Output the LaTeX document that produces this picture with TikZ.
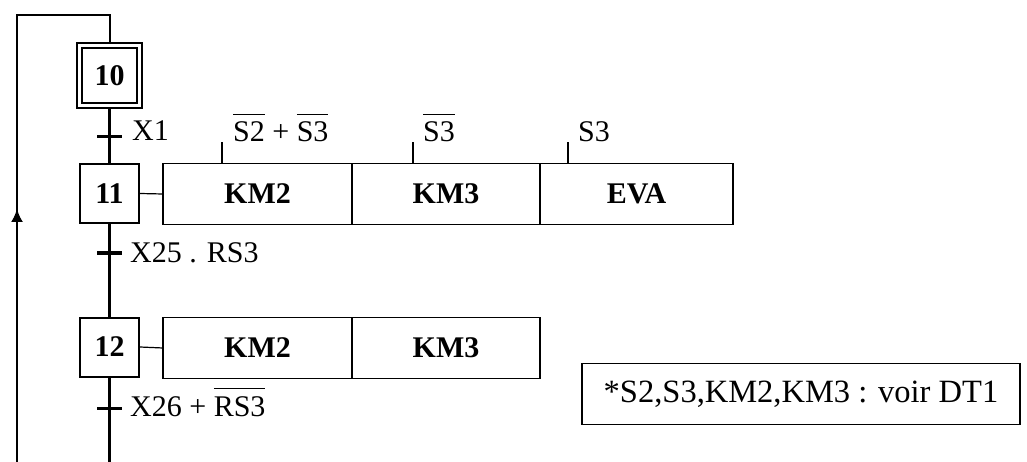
\documentclass[tikz,border=0pt]{standalone}
\usepackage{fontspec}
\setmainfont{Liberation Serif}
\usetikzlibrary{arrows.meta,backgrounds,decorations.markings}
\newcommand\ovl[1]{\leavevmode\vbox{\hrule height 1.3pt\vskip 7pt\hbox{#1}}}
\begin{document}
\begin{tikzpicture}[x=1pt,y=-1pt,
  every node/.style={font=\fontsize{30}{36}\selectfont},
  stepbox/.style={draw,fill=white,line width=2pt,minimum width=59pt,minimum height=59pt,inner sep=0pt,font=\fontsize{30}{36}\selectfont\bfseries},
  initstep/.style={stepbox,double,double distance=3pt,minimum width=60pt,minimum height=60pt},
  actbox/.style={draw,fill=white,line width=1.4pt,minimum height=61pt,inner sep=0pt,outer sep=0pt,anchor=west,font=\fontsize{30}{36}\selectfont\bfseries},
  flow/.style={line width=2.4pt},
  back/.style={line width=2pt},
  link/.style={line width=1.2pt},
  trans/.style={line width=3pt},
  cond/.style={line width=1.6pt},
  lbl/.style={anchor=base west,inner sep=0pt},
  notebox/.style={draw,line width=1.3pt,minimum width=438pt,minimum height=61pt,inner sep=0pt,font=\fontsize{32.5}{38}\selectfont}
]
\useasboundingbox (0,0) rectangle (1027,462);
% steps
\node[initstep] (s10) at (109.5,76) {10};
\node[stepbox] (s11) at (109.5,193.5) {11};
\node[stepbox] (s12) at (109.5,347) {12};
% actions
\node[actbox,minimum width=189pt] (a1) at (163,194) {KM2};
\node[actbox,minimum width=188pt] (a2) at (a1.east) {KM3};
\node[actbox,minimum width=193pt] (a3) at (a2.east) {EVA};
\node[actbox,minimum width=189pt] (a4) at (163,348) {KM2};
\node[actbox,minimum width=188pt] (a5) at (a4.east) {KM3};
% coordinates
\coordinate (t1) at (109.5,136.5);
\coordinate (t2) at (109.5,253);
\coordinate (t3) at (109.5,408);
\coordinate (bot) at (109.5,462);
\coordinate (lbot) at (17,462);
\coordinate (ltop) at (17,15);
\coordinate (top) at (109.5,15);
\coordinate (c1) at ([xshift=59pt]a1.north west);
\coordinate (c2) at ([xshift=61pt]a2.north west);
\coordinate (c3) at ([xshift=28pt]a3.north west);
% connectors
\begin{scope}[on background layer]
\draw[flow] (s10.south) -- (s11.north);
\draw[flow] (s11.south) -- (s12.north);
\draw[flow] (s12.south) -- (bot);
\draw[back,postaction={decorate},decoration={markings,mark=at position 253pt with {\arrow{Latex[length=13pt,width=12pt]}}}] (lbot) -- (ltop) -- (top) -- (s10.north);
\draw[link] (s11.east) -- (a1.west);
\draw[link] (s12.east) -- (a4.west);
\end{scope}
% transitions
\draw[trans] ([xshift=-12.5pt]t1) -- ([xshift=12.5pt]t1);
\draw[trans] ([xshift=-12.5pt]t2) -- ([xshift=12.5pt]t2);
\draw[trans] ([xshift=-12.5pt]t3) -- ([xshift=12.5pt]t3);
% condition ticks
\draw[cond] (c1) -- ([yshift=21pt]c1);
\draw[cond] (c2) -- ([yshift=21pt]c2);
\draw[cond] (c3) -- ([yshift=21pt]c3);
% labels
\node[lbl] (l1) at (132,141) {X1};
\node[lbl] (l2) at (233,142) {\ovl{S2} + \ovl{S3}};
\node[lbl] (l3) at (423,142) {\ovl{S3}};
\node[lbl] (l4) at (578,142) {S3};
\node[lbl] (l5) at (130,262) {X25 . RS3};
\node[lbl] (l6) at (130,416) {X26 + \ovl{RS3}};
\node[notebox] (note) at (801,394) {*S2,S3,KM2,KM3 : voir DT1};
\end{tikzpicture}
\end{document}
